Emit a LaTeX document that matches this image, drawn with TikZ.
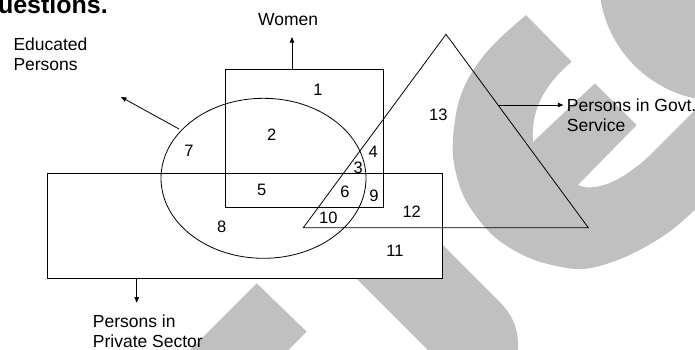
\documentclass[tikz,border=0pt]{standalone}
\usepackage{fontspec}
\setmainfont{Liberation Sans}
\usetikzlibrary{arrows.meta,shapes.geometric}
\definecolor{wmgrey}{RGB}{192,192,192}
\begin{document}
\begin{tikzpicture}[x=1pt,y=-1pt,
  wm/.style={fill=wmgrey},
  setline/.style={draw=black,line width=0.8pt},
  arr/.style={draw=black,line width=0.8pt,-{Triangle[length=5.5pt,width=4.5pt]}},
  lbl/.style={font=\fontsize{17.5}{20}\selectfont,inner sep=0pt,align=left},
  num/.style={font=\fontsize{16.5}{19}\selectfont,inner sep=0pt}]
\useasboundingbox (0,0) rectangle (695,349);
% watermark
\begin{scope}
\clip (0,0) rectangle (695,349);
\fill[wm] plot[smooth,tension=0.6] coordinates {(700,205) (673,229) (645,247) (615,261) (583,269) (552,265) (525,256) (497,239) (476,216) (461,190) (453,155) (455,120) (462,92) (476,66) (496,42) (526,15)}
  -- (571.7,61.7) .. controls (550,80) and (530,105) .. (533,142)
  -- (595,83.3) -- (636.7,125) -- (578,185)
  .. controls (600,195) and (635,172) .. (658,147)
  -- (720,85) -- (720,205) -- cycle;
\fill[wm] (720,-20) circle (121);
\fill[wm] (319,241) -- (379,181) -- (497,299) .. controls (510,312) and (518,325) .. (518,345) -- (518,360) -- (438,360) -- cycle;
\fill[wm] (256.7,283.3) -- (306.7,331.7) -- (276.7,361.7) -- (176.7,363.3) -- cycle;
\end{scope}
% sets
\node[setline,fill=white,rectangle,inner sep=0pt,minimum width=395pt,minimum height=105pt,anchor=north west] (priv) at (46.5,173) {};
\node[setline,rectangle,inner sep=0pt,minimum width=157.5pt,minimum height=138pt,anchor=north west] (wom) at (225,69) {};
\node[setline,ellipse,inner sep=0pt,minimum width=205pt,minimum height=160pt] (edu) at (263.5,178.3) {};
\coordinate (tA) at (446,34.3);
\coordinate (tB) at (588.3,227.7);
\coordinate (tC) at (303.3,227.7);
\draw[setline] (tA) -- (tB) -- (tC) -- cycle;
% labels
\node[font=\bfseries\fontsize{25}{28}\selectfont,inner sep=0pt,anchor=base east] (qtitle) at (108,13.5) {Questions.};
\node[lbl,anchor=north west] (womlbl) at (258,13.3) {Women};
\node[lbl,anchor=north west] (edulbl) at (13.3,37.3) {Educated\\Persons};
\node[lbl,anchor=north west] (govlbl) at (566.7,98.3) {Persons in Govt.\\Service};
\node[lbl,anchor=north west] (privlbl) at (92.7,315) {Persons in\\Private Sector};
% connectors
\coordinate (womA) at (292,69);
\coordinate (womT) at (292,37);
\coordinate (eduA) at (179,129);
\coordinate (eduT) at (121,97);
\coordinate (govA) at (498,105);
\coordinate (govT) at (563.3,105);
\coordinate (privA) at (136.7,278);
\coordinate (privT) at (136.7,302.7);
\draw[arr] (womA) -- (womT);
\draw[arr] (eduA) -- (eduT);
\draw[arr] (govA) -- (govT);
\draw[arr] (privA) -- (privT);
% region numbers
\node[num] (n1) at (318,90) {1};
\node[num] (n2) at (271.7,135) {2};
\node[num] (n3) at (358.3,168.3) {3};
\node[num] (n4) at (373.3,151.7) {4};
\node[num] (n5) at (261.7,190) {5};
\node[num] (n6) at (345,191.7) {6};
\node[num] (n7) at (189,150.7) {7};
\node[num] (n8) at (221.7,226.7) {8};
\node[num] (n9) at (374,196) {9};
\node[num] (n10) at (328.3,218.3) {10};
\node[num] (n11) at (395,251) {11};
\node[num] (n12) at (411.7,211.7) {12};
\node[num] (n13) at (438.3,115) {13};
\end{tikzpicture}
\end{document}
